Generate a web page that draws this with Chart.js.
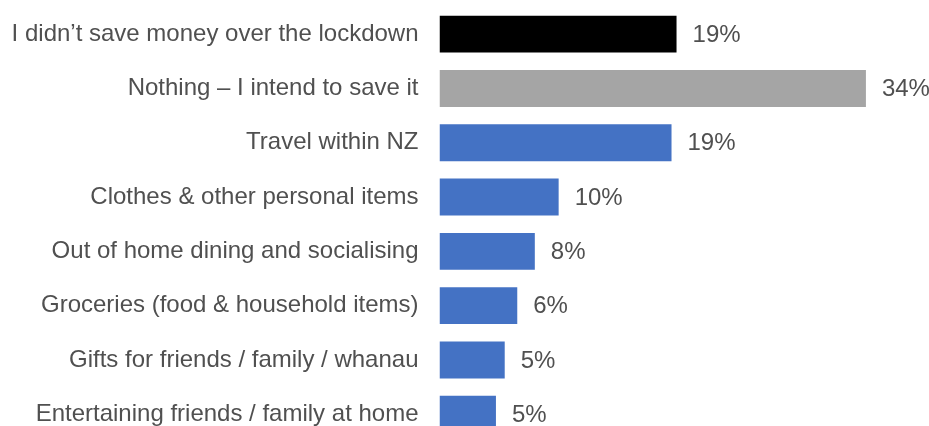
<!DOCTYPE html>
<html>
<head>
<meta charset="utf-8">
<script src="https://cdn.jsdelivr.net/npm/chart.js@4/dist/chart.umd.min.js"></script>
<style>
  html, body { margin: 0; padding: 0; background: #ffffff; overflow: hidden; }
  canvas { display: block; }
</style>
</head>
<body>
<canvas id="chart-spend" width="929" height="443"></canvas>
<script>
const labelsSpend = [
  "I didn\u2019t save money over the lockdown",
  "Nothing \u2013 I intend to save it",
  "Travel within NZ",
  "Clothes & other personal items",
  "Out of home dining and socialising",
  "Groceries (food & household items)",
  "Gifts for friends / family / whanau",
  "Entertaining friends / family at home",
];
const valuesSpend = [18.9, 34, 18.5, 9.5, 7.6, 6.2, 5.2, 4.5];
const colorsSpend = [
  "#000000",
  "#A5A5A5",
  "#4472C4",
  "#4472C4",
  "#4472C4",
  "#4472C4",
  "#4472C4",
  "#4472C4",
];

const textColor = "#505050";
const fontFamily = "'Liberation Sans', Arial, sans-serif";

// percentage label to the right of each bar
const valueLabels = {
  id: "valueLabels",
  afterDatasetsDraw(chart) {
    const ctx = chart.ctx;
    const meta = chart.getDatasetMeta(0);
    ctx.save();
    ctx.font = "24px " + fontFamily;
    ctx.fillStyle = textColor;
    ctx.textAlign = "left";
    ctx.textBaseline = "middle";
    meta.data.forEach((bar, i) => {
      ctx.fillText(Math.round(valuesSpend[i]) + "%", bar.x + 16, bar.y + 1);
    });
    ctx.restore();
  },
};

new Chart(document.querySelector("#chart-spend").getContext("2d"), {
  type: "bar",
  data: {
    labels: labelsSpend,
    datasets: [
      {
        data: valuesSpend,
        backgroundColor: colorsSpend,
        borderWidth: 0,
        categoryPercentage: 1,
        barPercentage: 0.68,
      },
    ],
  },
  options: {
    indexAxis: "y",
    responsive: false,
    animation: false,
    layout: { padding: { top: 7, right: 38, bottom: 1.6, left: 0 } },
    scales: {
      x: { display: false, min: 0, max: 36 },
      y: {
        afterFit(scale) {
          // fixed label column, no extra room above/below the bars
          scale.width = 439.5;
          scale.paddingTop = 0;
          scale.paddingBottom = 0;
        },
        grid: { display: false, drawTicks: false },
        border: { display: false },
        ticks: {
          color: textColor,
          padding: 21,
          font: { family: fontFamily, size: 24 },
        },
      },
    },
    plugins: {
      legend: { display: false },
      tooltip: { enabled: false },
    },
  },
  plugins: [valueLabels],
});
</script>
</body>
</html>
